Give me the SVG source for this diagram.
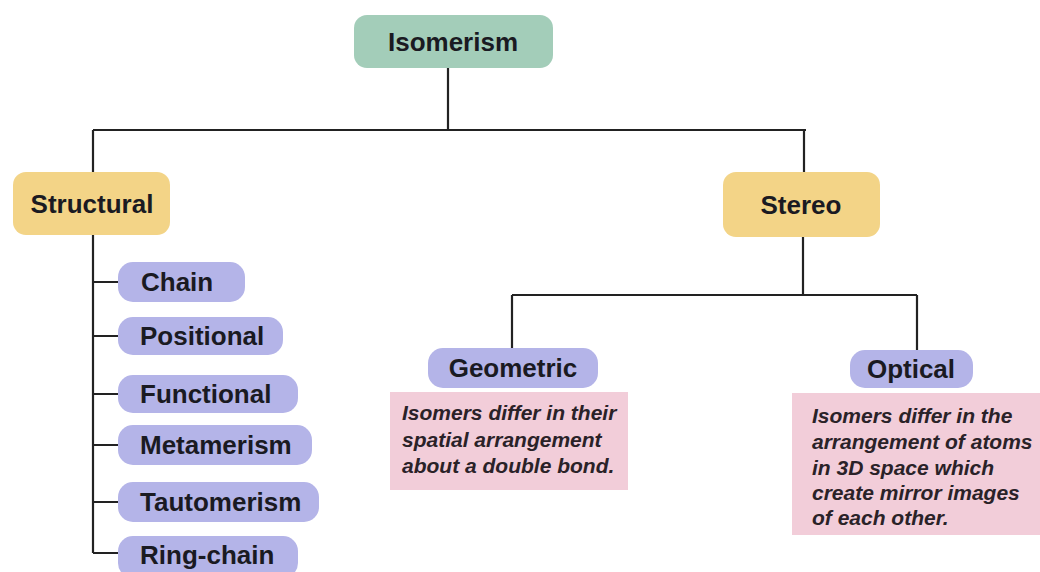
<svg xmlns="http://www.w3.org/2000/svg" width="1040" height="572" viewBox="0 0 1040 572">
<style>
.lbl{font-family:"Liberation Sans",Arial,sans-serif;font-weight:bold;font-size:26px;fill:#1a1a22;dominant-baseline:central}
.mid{text-anchor:middle}
.desc{font-family:"Liberation Sans",Arial,sans-serif;font-weight:bold;font-style:italic;font-size:21px;fill:#2a2228}
.root{fill:#a3cdb9}
.cat{fill:#f3d487}
.sub{fill:#b4b4e8}
.note{fill:#f2cdd9}
.wire{fill:none;stroke:#222;stroke-width:2.2}
</style>
<rect width="1040" height="572" fill="#ffffff"/>
<g id="connectors" class="wire">
<path d="M448 68V130M93 130H806M93 130V172M804 130V172"/>
<path d="M93 235V553M93 282H118M93 336H118M93 394H118M93 445H118M93 502H118M93 553H118"/>
<path d="M803 237V295M512 295H917M512 295V348M917 295V350"/>
</g>
<g id="isomerism"><rect class="root" x="354" y="15" width="199" height="53" rx="13"/><text class="lbl mid" x="453" y="42">Isomerism</text></g>
<g id="structural"><rect class="cat" x="13" y="172" width="157" height="63" rx="13"/><text class="lbl mid" x="92" y="204">Structural</text></g>
<g id="stereo"><rect class="cat" x="723" y="172" width="157" height="65" rx="13"/><text class="lbl mid" x="801" y="205">Stereo</text></g>
<g id="chain"><rect class="sub" x="118" y="262" width="127" height="40" rx="15"/><text class="lbl" x="141" y="282">Chain</text></g>
<g id="positional"><rect class="sub" x="118" y="317" width="165" height="38" rx="15"/><text class="lbl" x="140" y="336">Positional</text></g>
<g id="functional"><rect class="sub" x="118" y="375" width="180" height="38" rx="15"/><text class="lbl" x="140" y="394">Functional</text></g>
<g id="metamerism"><rect class="sub" x="118" y="425" width="194" height="40" rx="15"/><text class="lbl" x="140" y="445">Metamerism</text></g>
<g id="tautomerism"><rect class="sub" x="118" y="482" width="201" height="40" rx="15"/><text class="lbl" x="140" y="502">Tautomerism</text></g>
<g id="ringchain"><rect class="sub" x="118" y="536" width="180" height="42" rx="15"/><text class="lbl" x="140" y="555">Ring-chain</text></g>
<g id="geometric"><rect class="sub" x="428" y="348" width="170" height="40" rx="15"/><text class="lbl mid" x="513" y="368">Geometric</text></g>
<g id="optical"><rect class="sub" x="850" y="350" width="123" height="38" rx="15"/><text class="lbl mid" x="911" y="369">Optical</text></g>
<g id="geometric-note"><rect class="note" x="390" y="392" width="238" height="98"/>
<text class="desc" x="402" y="420">Isomers differ in their</text>
<text class="desc" x="402" y="447">spatial arrangement</text>
<text class="desc" x="402" y="473">about a double bond.</text></g>
<g id="optical-note"><rect class="note" x="792" y="393" width="248" height="142"/>
<text class="desc" x="812" y="423">Isomers differ in the</text>
<text class="desc" x="812" y="449">arrangement of atoms</text>
<text class="desc" x="812" y="475">in 3D space which</text>
<text class="desc" x="812" y="500">create mirror images</text>
<text class="desc" x="812" y="525">of each other.</text></g>
</svg>
